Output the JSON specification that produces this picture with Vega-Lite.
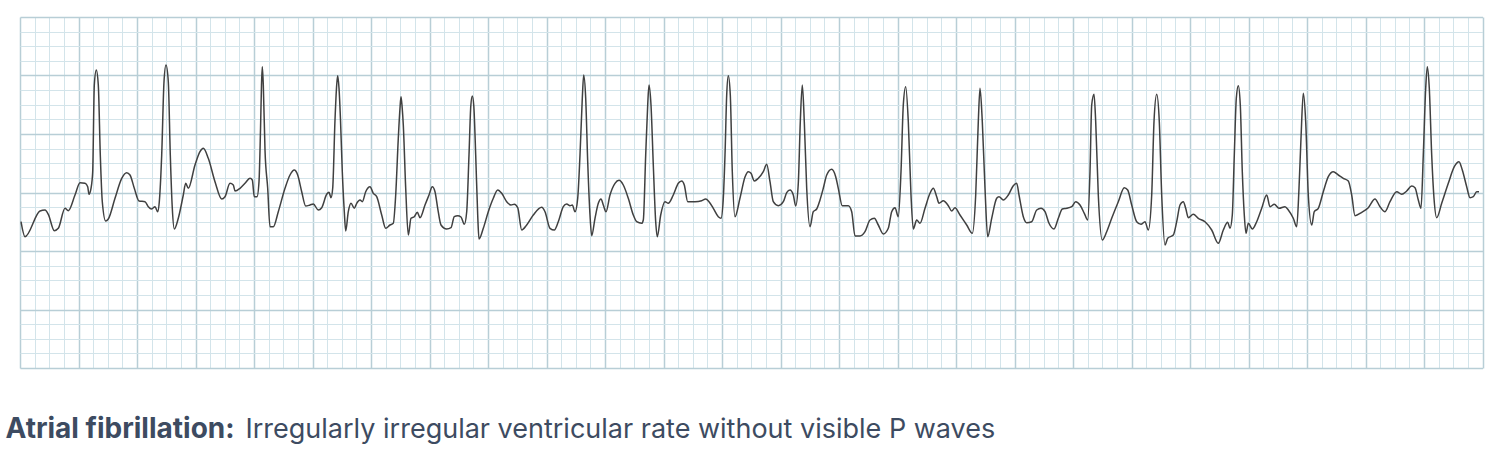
{
"$schema": "https://vega.github.io/schema/vega-lite/v6.json",
"width": 1462.5, "height": 351,
"autosize": "none",
"padding": {"left": 20, "top": 17, "right": 21.5, "bottom": 88},
"background": "white",
"config": {"view": {"stroke": null}},
"data": {"values": [
{"t":21,"a":146.3},{"t":25,"a":131.3},{"t":40,"a":157},{"t":45,"a":158},{"t":48.3,"a":153.7},{"t":54.3,"a":137.3},{"t":58.3,"a":139.7},{"t":65,"a":159.7},{"t":68.3,"a":157.3},{"t":75,"a":173},{"t":80,"a":185.3},{"t":85,"a":184.7},{"t":87.7,"a":181.3},{"t":89,"a":173.7},{"t":91,"a":179.7},{"t":92.7,"a":196.3},{"t":94.3,"a":283},{"t":96.3,"a":298},{"t":98.3,"a":283},{"t":100.3,"a":213},{"t":102.3,"a":166.3},{"t":105.7,"a":147},{"t":108.3,"a":149},{"t":115,"a":169.7},{"t":121.7,"a":189.7},{"t":126.7,"a":195.3},{"t":130,"a":193},{"t":134.3,"a":179.7},{"t":139,"a":167},{"t":145,"a":166.3},{"t":148.3,"a":161.3},{"t":151.7,"a":159},{"t":155,"a":161.3},{"t":157.7,"a":156.3},{"t":159.3,"a":166.3},{"t":161.7,"a":213},{"t":164,"a":286.3},{"t":166,"a":303},{"t":168.3,"a":286.3},{"t":170.3,"a":213},{"t":172.3,"a":159.7},{"t":174.3,"a":139},{"t":178.3,"a":149.7},{"t":183.3,"a":173},{"t":185.7,"a":184.7},{"t":188.3,"a":179.7},{"t":195,"a":203},{"t":200,"a":216.3},{"t":203.3,"a":219.7},{"t":208.3,"a":209.7},{"t":215,"a":186.3},{"t":221.7,"a":169},{"t":225,"a":171.3},{"t":230,"a":184.7},{"t":233.3,"a":183},{"t":235,"a":177},{"t":240,"a":179.7},{"t":245,"a":184.7},{"t":250,"a":189.7},{"t":252.3,"a":188},{"t":254.3,"a":171.3},{"t":257,"a":171.3},{"t":259,"a":186.3},{"t":260.5,"a":238},{"t":261.5,"a":283},{"t":262.3,"a":301.3},{"t":263.3,"a":283},{"t":265,"a":218},{"t":267.7,"a":179.7},{"t":270,"a":141.3},{"t":273.3,"a":141.3},{"t":278.3,"a":156.3},{"t":285,"a":179.7},{"t":290,"a":193},{"t":294.3,"a":198},{"t":297.7,"a":193},{"t":301.7,"a":176.3},{"t":305.7,"a":162},{"t":310,"a":163},{"t":313.3,"a":164},{"t":318.3,"a":158},{"t":321.7,"a":160.3},{"t":326.7,"a":173.7},{"t":329,"a":175.7},{"t":331,"a":170.3},{"t":332.7,"a":179.7},{"t":335,"a":248},{"t":336.7,"a":283},{"t":337.7,"a":292.3},{"t":339,"a":280},{"t":340.5,"a":248},{"t":342.3,"a":196.3},{"t":344.3,"a":156.3},{"t":345.7,"a":137},{"t":348.3,"a":156.3},{"t":351,"a":164.7},{"t":354.3,"a":159.7},{"t":356.7,"a":164.7},{"t":360,"a":168},{"t":362.3,"a":166.3},{"t":365.7,"a":176.3},{"t":370,"a":181.3},{"t":373.3,"a":174.7},{"t":376.7,"a":171.3},{"t":381.7,"a":153},{"t":385.7,"a":139.7},{"t":390,"a":143},{"t":393.3,"a":144.7},{"t":395.7,"a":173},{"t":398.3,"a":229.7},{"t":400,"a":260},{"t":401,"a":271.3},{"t":402.2,"a":260},{"t":403.3,"a":243},{"t":405.7,"a":179.7},{"t":408.3,"a":133},{"t":411,"a":149.7},{"t":414.3,"a":151.3},{"t":417.3,"a":155.7},{"t":420,"a":150.3},{"t":425,"a":163},{"t":429,"a":173},{"t":432.3,"a":181.3},{"t":435,"a":176.3},{"t":437.7,"a":159.7},{"t":441,"a":143},{"t":446.7,"a":139},{"t":451,"a":140.3},{"t":454.3,"a":151.3},{"t":457.7,"a":152.3},{"t":461,"a":151},{"t":464.3,"a":143.7},{"t":466.7,"a":156.3},{"t":469,"a":213},{"t":470.8,"a":262},{"t":472.3,"a":272},{"t":473.8,"a":262},{"t":475.7,"a":213},{"t":477.7,"a":153},{"t":479,"a":129},{"t":483.3,"a":139.7},{"t":488.3,"a":156.3},{"t":493.3,"a":169.7},{"t":497.7,"a":178},{"t":501.7,"a":174.7},{"t":506.7,"a":166.3},{"t":511,"a":163},{"t":514.3,"a":163.7},{"t":517.7,"a":160.3},{"t":521.7,"a":138},{"t":526.7,"a":143},{"t":533.3,"a":153},{"t":541.7,"a":160.7},{"t":545,"a":156.3},{"t":550,"a":139.7},{"t":554.3,"a":138},{"t":558.3,"a":146.3},{"t":563.3,"a":161.3},{"t":566.7,"a":164},{"t":570,"a":162.3},{"t":572.3,"a":163},{"t":575,"a":156.3},{"t":577.7,"a":169.7},{"t":580,"a":213},{"t":582.3,"a":269.7},{"t":583.7,"a":293},{"t":585.7,"a":269.7},{"t":587.7,"a":206.3},{"t":590,"a":153},{"t":591.7,"a":132.3},{"t":595,"a":149.7},{"t":598.3,"a":164.7},{"t":601,"a":169},{"t":603.3,"a":163},{"t":606,"a":156.3},{"t":610,"a":173},{"t":615,"a":184.7},{"t":619,"a":187.7},{"t":623.3,"a":183},{"t":628.3,"a":169.7},{"t":633.3,"a":153},{"t":636.7,"a":146.3},{"t":641.7,"a":144.7},{"t":643.3,"a":148},{"t":645.7,"a":213},{"t":647.7,"a":263},{"t":649,"a":283},{"t":651,"a":263},{"t":653.3,"a":203},{"t":655.7,"a":146.3},{"t":657.3,"a":131.3},{"t":660.7,"a":153},{"t":665,"a":166.3},{"t":668.3,"a":164.7},{"t":673.3,"a":173},{"t":678.3,"a":184.7},{"t":681.7,"a":187},{"t":684.3,"a":183},{"t":687.7,"a":166.3},{"t":695,"a":166.3},{"t":701.7,"a":167.3},{"t":705.7,"a":169},{"t":709,"a":166.3},{"t":713.3,"a":159.7},{"t":718.3,"a":151.3},{"t":721,"a":149.7},{"t":723.3,"a":169.7},{"t":725,"a":213},{"t":726.7,"a":273},{"t":728.3,"a":292.3},{"t":730.3,"a":273},{"t":732.3,"a":196.3},{"t":735,"a":151.3},{"t":740,"a":170},{"t":745,"a":191},{"t":748.3,"a":196.3},{"t":751,"a":194.7},{"t":754.3,"a":187},{"t":758.3,"a":189.7},{"t":763.3,"a":196.3},{"t":766.7,"a":203.7},{"t":770,"a":186.3},{"t":773.3,"a":166.3},{"t":778.3,"a":162.3},{"t":783.3,"a":166.3},{"t":786.7,"a":175.3},{"t":790,"a":178},{"t":793.3,"a":173},{"t":795.7,"a":162},{"t":798.3,"a":184.7},{"t":800.3,"a":246.3},{"t":802.3,"a":283},{"t":804.3,"a":246.3},{"t":806.7,"a":179.7},{"t":810,"a":141.3},{"t":813.3,"a":156.3},{"t":816.7,"a":159},{"t":820,"a":168},{"t":823.3,"a":179.7},{"t":826.7,"a":193},{"t":831.7,"a":198.7},{"t":835.7,"a":191.3},{"t":838.3,"a":179.7},{"t":842.3,"a":162.3},{"t":848.3,"a":162.3},{"t":851.7,"a":156.3},{"t":855,"a":132},{"t":860,"a":132},{"t":865,"a":136.3},{"t":870,"a":148},{"t":874.3,"a":149.7},{"t":878.3,"a":143},{"t":883.3,"a":134},{"t":888.3,"a":139.7},{"t":891.7,"a":156.3},{"t":895,"a":160.3},{"t":898.3,"a":151.3},{"t":901,"a":196.3},{"t":903.3,"a":263},{"t":905.7,"a":281.3},{"t":908.3,"a":246.3},{"t":911,"a":173},{"t":913.3,"a":139},{"t":916.7,"a":148},{"t":920,"a":144.7},{"t":925,"a":159.7},{"t":930,"a":174.7},{"t":933.3,"a":179.7},{"t":936.7,"a":171.3},{"t":939,"a":164.7},{"t":943.3,"a":167.3},{"t":948.3,"a":162.3},{"t":951.7,"a":157},{"t":955,"a":160.3},{"t":960,"a":153},{"t":966.7,"a":143},{"t":972.3,"a":134.7},{"t":975.7,"a":173},{"t":978.3,"a":246.3},{"t":980,"a":279.7},{"t":982.3,"a":246.3},{"t":985,"a":179.7},{"t":987.7,"a":131.3},{"t":991.7,"a":149.7},{"t":996.7,"a":169.7},{"t":999,"a":171.3},{"t":1003.3,"a":168},{"t":1008.3,"a":173},{"t":1013.3,"a":182.3},{"t":1016.7,"a":184.7},{"t":1019,"a":173},{"t":1023.3,"a":151.3},{"t":1026.7,"a":145.3},{"t":1031.7,"a":146.3},{"t":1036.7,"a":158},{"t":1041,"a":159.7},{"t":1045,"a":156.3},{"t":1049,"a":144.7},{"t":1054,"a":139},{"t":1058.3,"a":149.7},{"t":1062.3,"a":159},{"t":1066.7,"a":159.7},{"t":1071.7,"a":161.3},{"t":1075.7,"a":166.3},{"t":1080,"a":163},{"t":1084.3,"a":154.7},{"t":1087.7,"a":148},{"t":1090,"a":196.3},{"t":1091.7,"a":263},{"t":1094,"a":273.7},{"t":1095.7,"a":246.3},{"t":1098.3,"a":173},{"t":1102.3,"a":128},{"t":1106.7,"a":136.3},{"t":1111.7,"a":149.7},{"t":1118.3,"a":166.3},{"t":1124.3,"a":180.3},{"t":1127.7,"a":178},{"t":1131.7,"a":163},{"t":1136.7,"a":146.3},{"t":1141,"a":143.7},{"t":1145,"a":146.3},{"t":1148.3,"a":138},{"t":1151.7,"a":173},{"t":1154,"a":246.3},{"t":1156.7,"a":273.7},{"t":1159.3,"a":246.3},{"t":1161.7,"a":173},{"t":1165,"a":123},{"t":1167.7,"a":129.7},{"t":1173.3,"a":133},{"t":1176.7,"a":146.3},{"t":1180,"a":163},{"t":1183.3,"a":166.3},{"t":1185.7,"a":159.7},{"t":1188.3,"a":150.3},{"t":1193.3,"a":153.7},{"t":1198.3,"a":149.7},{"t":1205,"a":146.3},{"t":1211.7,"a":138},{"t":1218.3,"a":124.7},{"t":1223.3,"a":138},{"t":1227.7,"a":145.7},{"t":1230,"a":139.7},{"t":1232.3,"a":153},{"t":1234.3,"a":213},{"t":1236.3,"a":269.7},{"t":1238.3,"a":282.3},{"t":1240.3,"a":263},{"t":1242.3,"a":196.3},{"t":1244.3,"a":153},{"t":1246,"a":134.7},{"t":1248.3,"a":144.7},{"t":1252.3,"a":139},{"t":1256.7,"a":146.3},{"t":1261.7,"a":159.7},{"t":1266.7,"a":173},{"t":1270,"a":161.3},{"t":1274.3,"a":163.7},{"t":1279,"a":159.7},{"t":1285,"a":161.3},{"t":1288.3,"a":158},{"t":1293.3,"a":149.7},{"t":1296.7,"a":141.3},{"t":1299,"a":179.7},{"t":1301,"a":229.7},{"t":1303.3,"a":274.7},{"t":1305.7,"a":246.3},{"t":1308.3,"a":173},{"t":1311.7,"a":143},{"t":1314.3,"a":156.3},{"t":1318.3,"a":159.7},{"t":1323.3,"a":176.3},{"t":1328.3,"a":191.3},{"t":1333.3,"a":196.3},{"t":1338.3,"a":193},{"t":1343.3,"a":189.7},{"t":1348.3,"a":187},{"t":1351.7,"a":173},{"t":1355,"a":152.3},{"t":1361.7,"a":155.7},{"t":1368.3,"a":160.3},{"t":1375,"a":169},{"t":1380,"a":161.3},{"t":1385,"a":156.3},{"t":1390,"a":166.3},{"t":1396.7,"a":176.3},{"t":1401.7,"a":173.7},{"t":1406.7,"a":177},{"t":1411.7,"a":182},{"t":1415,"a":180.3},{"t":1418.3,"a":168},{"t":1421,"a":159.7},{"t":1423.3,"a":213},{"t":1425.7,"a":279.7},{"t":1427.3,"a":301.3},{"t":1429.3,"a":279.7},{"t":1431.7,"a":213},{"t":1434,"a":169.7},{"t":1436.7,"a":150.3},{"t":1441.7,"a":164.7},{"t":1448.3,"a":184.7},{"t":1454.3,"a":201.3},{"t":1459,"a":206.3},{"t":1462.3,"a":198},{"t":1466.7,"a":181.3},{"t":1470,"a":170.3},{"t":1473.3,"a":171.3},{"t":1476.7,"a":176.3},{"t":1479,"a":176.3}
]},
"layer": [
{"mark": {"type": "line", "strokeOpacity": 0},
 "encoding": {
  "x": {"field": "t", "type": "quantitative", "scale": {"domain": [20, 1482.5], "nice": false, "zero": false},
   "axis": {"orient": "top", "values": [20,78.5,137,195.5,254,312.5,371,429.5,488,546.5,605,663.5,722,780.5,839,897.5,956,1014.5,1073,1131.5,1190,1248.5,1307,1365.5,1424,1482.5],
    "grid": true, "gridColor": "#b8ced6", "gridWidth": 1.5, "labels": false, "ticks": false, "domain": false,
    "title": "Irregularly irregular ventricular rate without visible P waves", "titleX": 225, "titleY": 420, "titleAlign": "left", "titleBaseline": "alphabetic", "titleAnchor": null,
    "titleFont": "Inter", "titleFontSize": 27, "titleFontWeight": "normal", "titleColor": "#3d4b61"}},
  "y": {"field": "a", "type": "quantitative", "scale": {"domain": [0, 351], "nice": false, "zero": false},
   "axis": {"orient": "right", "values": [0,58.5,117,175.5,234,292.5,351], "grid": true, "gridColor": "#b8ced6", "gridWidth": 1.5, "labels": false, "ticks": false, "domain": false, "title": null}}
 }},
{"mark": {"type": "line", "color": "#404040", "strokeWidth": 1.5, "interpolate": "monotone"},
 "encoding": {
  "x": {"field": "t", "type": "quantitative",
   "axis": {"orient": "bottom", "values": [34.625,49.25,63.875,93.125,107.75,122.375,151.625,166.25,180.875,210.125,224.75,239.375,268.625,283.25,297.875,327.125,341.75,356.375,385.625,400.25,414.875,444.125,458.75,473.375,502.625,517.25,531.875,561.125,575.75,590.375,619.625,634.25,648.875,678.125,692.75,707.375,736.625,751.25,765.875,795.125,809.75,824.375,853.625,868.25,882.875,912.125,926.75,941.375,970.625,985.25,999.875,1029.125,1043.75,1058.375,1087.625,1102.25,1116.875,1146.125,1160.75,1175.375,1204.625,1219.25,1233.875,1263.125,1277.75,1292.375,1321.625,1336.25,1350.875,1380.125,1394.75,1409.375,1438.625,1453.25,1467.875],
    "grid": true, "gridColor": "#d3e4ea", "gridWidth": 1, "labels": false, "ticks": false, "domain": false,
    "title": "Atrial fibrillation:", "titleX": -15, "titleY": 69, "titleAlign": "left", "titleBaseline": "alphabetic", "titleAnchor": null,
    "titleFont": "Inter", "titleFontSize": 28, "titleFontWeight": "bold", "titleColor": "#3d4b61"}},
  "y": {"field": "a", "type": "quantitative",
   "axis": {"orient": "left", "values": [14.625,29.25,43.875,73.125,87.75,102.375,131.625,146.25,160.875,190.125,204.75,219.375,248.625,263.25,277.875,307.125,321.75,336.375], "grid": true, "gridColor": "#d3e4ea", "gridWidth": 1, "labels": false, "ticks": false, "domain": false, "title": null}}
 }}
],
"resolve": {"axis": {"x": "independent", "y": "independent"}}
}
